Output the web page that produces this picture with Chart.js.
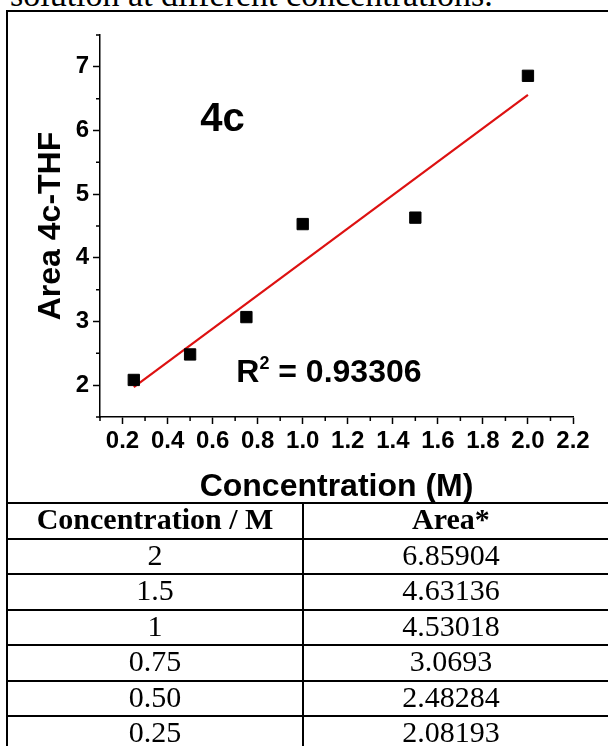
<!DOCTYPE html>
<html>
<head>
<meta charset="utf-8">
<script src="https://cdn.jsdelivr.net/npm/chart.js@4.4.0/dist/chart.umd.min.js"></script>
<style>
    html, body { margin: 0; padding: 0; background: #fff; width: 608px; height: 746px; overflow: hidden; }
    #caption {
        position: absolute; left: 10px; top: -22px;
        font-family: "Liberation Serif", serif; font-size: 34px; line-height: 34px;
        white-space: nowrap; color: #000;
    }
    #box {
        position: absolute; left: 6px; top: 10px; width: 640px; height: 494px;
        border-left: 2px solid #000; border-top: 2px solid #000; box-sizing: border-box;
    }
    #chartWrap { position: absolute; left: 0; top: 0; width: 608px; height: 503px; }
    #dataTable {
        position: absolute; left: 6px; top: 502px; width: 620px;
        border-collapse: collapse; table-layout: fixed;
        font-family: "Liberation Serif", serif; font-size: 30px; color: #000;
    }
    #dataTable td, #dataTable th {
        border: 2px solid #000; padding: 0 0 3px 0; height: 30.5px; line-height: 30px;
        text-align: center; vertical-align: middle;
    }
    #dataTable th { font-weight: bold; font-size: 30px; }
    #dataTable .c1 { width: 294px; }
    #dataTable .c2 { padding-right: 26px; }
</style>
</head>
<body>
<div id="caption">solution at different concentrations.</div>
<div id="box"></div>
<div id="chartWrap"><canvas id="areaChart"></canvas></div>
<table id="dataTable">
    <thead><tr><th class="c1">Concentration / M</th><th class="c2">Area*</th></tr></thead>
    <tbody></tbody>
</table>
<script>
// table values, as printed
const concText = ['2', '1.5', '1', '0.75', '0.50', '0.25'];
const areaText = ['6.85904', '4.63136', '4.53018', '3.0693', '2.48284', '2.08193'];

const concentration = concText.map(Number);
const area = areaText.map(Number);

// linear fit line, end points
const fitX = [0.25, 2.0];
const fitY = [1.97, 6.56];

// axis ticks
const xMajorTicks = [0.2, 0.4, 0.6, 0.8, 1.0, 1.2, 1.4, 1.6, 1.8, 2.0, 2.2];
const xMinorTicks = [0.1, 0.3, 0.5, 0.7, 0.9, 1.1, 1.3, 1.5, 1.7, 1.9, 2.1];
const yMajorTicks = [2, 3, 4, 5, 6, 7];
const yMinorTicks = [1.5, 2.5, 3.5, 4.5, 5.5, 6.5, 7.5];

const FONT = '"Liberation Sans", Arial, sans-serif';

// fill the table
const tbody = document.querySelector('#dataTable tbody');
concText.forEach((c, i) => {
    const tr = document.createElement('tr');
    tr.innerHTML = `<td class="c1">${c}</td><td class="c2">${areaText[i]}</td>`;
    tbody.appendChild(tr);
});

// minor ticks + the two text labels inside the plot
const extrasPlugin = {
    id: 'extras',
    afterDraw(chart) {
        const ctx = chart.ctx;
        const xs = chart.scales.x;
        const ys = chart.scales.y;
        const area = chart.chartArea;
        ctx.save();
        ctx.strokeStyle = '#000';
        ctx.lineWidth = 1.5;
        ctx.beginPath();
        xMinorTicks.forEach(v => {
            const px = xs.getPixelForValue(v);
            ctx.moveTo(px, area.bottom);
            ctx.lineTo(px, area.bottom + 4);
        });
        yMinorTicks.forEach(v => {
            const py = ys.getPixelForValue(v);
            ctx.moveTo(area.left, py);
            ctx.lineTo(area.left - 4, py);
        });
        ctx.stroke();

        ctx.fillStyle = '#000';
        ctx.textBaseline = 'alphabetic';
        ctx.textAlign = 'left';

        // "4c"
        ctx.font = 'bold 40px ' + FONT;
        ctx.fillText('4c', xs.getPixelForValue(0.545), ys.getPixelForValue(6.0));

        // "R² = 0.93306"
        let x = xs.getPixelForValue(0.705);
        const y = ys.getPixelForValue(2.05);
        ctx.font = 'bold 32px ' + FONT;
        ctx.fillText('R', x, y);
        x += ctx.measureText('R').width;
        ctx.font = 'bold 18px ' + FONT;
        ctx.fillText('2', x, y - 13);
        x += ctx.measureText('2').width;
        ctx.font = 'bold 32px ' + FONT;
        ctx.fillText(' = 0.93306', x, y);
        ctx.restore();
    }
};

const ctx = document.getElementById('areaChart').getContext('2d');
new Chart(ctx, {
    type: 'scatter',
    data: {
        datasets: [
            {
                label: 'Area',
                data: concentration.map((c, i) => ({ x: c, y: area[i] })),
                pointStyle: 'rect',
                pointRadius: 8,
                pointBackgroundColor: '#000',
                pointBorderColor: '#000',
                pointBorderWidth: 1,
                order: 1
            },
            {
                label: 'Linear fit',
                data: fitX.map((c, i) => ({ x: c, y: fitY[i] })),
                showLine: true,
                borderColor: '#dd1111',
                borderWidth: 2.2,
                pointRadius: 0,
                order: 2
            }
        ]
    },
    options: {
        responsive: true,
        maintainAspectRatio: false,
        animation: false,
        layout: { padding: { top: 35, right: 35, left: 0, bottom: 0 } },
        plugins: {
            legend: { display: false },
            tooltip: { enabled: false }
        },
        scales: {
            x: {
                type: 'linear',
                min: 0.1,
                max: 2.2,
                afterBuildTicks: s => { s.ticks = xMajorTicks.map(v => ({ value: v })); },
                afterFit: s => { s.height = 86; },
                border: { display: true, color: '#000', width: 1.5 },
                grid: { drawOnChartArea: false, drawTicks: true, tickLength: 7, tickColor: '#000', tickWidth: 1.5 },
                ticks: {
                    color: '#000',
                    font: { family: FONT, size: 24, weight: 'bold' },
                    padding: 3,
                    maxRotation: 0,
                    autoSkip: false,
                    callback: v => v.toFixed(1)
                },
                title: {
                    display: true,
                    text: 'Concentration (M)',
                    color: '#000',
                    font: { family: FONT, size: 32, weight: 'bold', lineHeight: 1.0 },
                    padding: { top: 0, bottom: 0 }
                }
            },
            y: {
                type: 'linear',
                min: 1.5,
                max: 7.5,
                afterBuildTicks: s => { s.ticks = yMajorTicks.map(v => ({ value: v })); },
                afterFit: s => { s.width = 100; },
                border: { display: true, color: '#000', width: 1.5 },
                grid: { drawOnChartArea: false, drawTicks: true, tickLength: 7, tickColor: '#000', tickWidth: 1.5 },
                ticks: {
                    color: '#000',
                    font: { family: FONT, size: 24, weight: 'bold' },
                    padding: 4,
                    callback: v => String(v)
                },
                title: {
                    display: true,
                    text: 'Area 4c-THF',
                    color: '#000',
                    font: { family: FONT, size: 32, weight: 'bold' },
                    padding: { top: 32, bottom: 0 }
                }
            }
        }
    },
    plugins: [extrasPlugin]
});
</script>
</body>
</html>
